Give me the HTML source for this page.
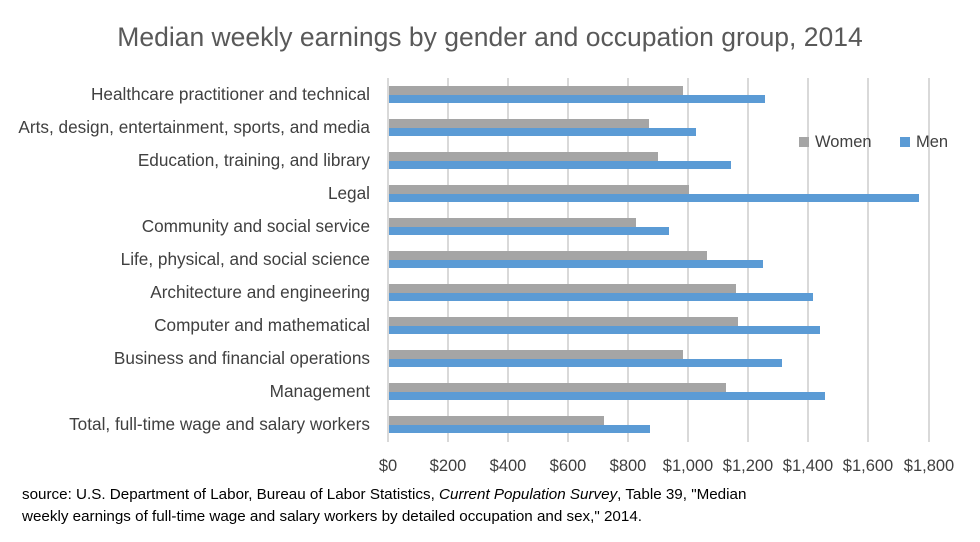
<!DOCTYPE html><html><head><style>body{margin:0;background:#fff;width:980px;height:537px;overflow:hidden}</style></head><body>
<svg width="980" height="537" xmlns="http://www.w3.org/2000/svg" font-family="Liberation Sans, sans-serif">
<text x="490" y="46" text-anchor="middle" font-size="26.5" fill="#595959">Median weekly earnings by gender and occupation group, 2014</text>
<g stroke="#d9d9d9" stroke-width="2">
<line x1="448" y1="78" x2="448" y2="442"/><line x1="508" y1="78" x2="508" y2="442"/><line x1="568" y1="78" x2="568" y2="442"/><line x1="628" y1="78" x2="628" y2="442"/><line x1="688" y1="78" x2="688" y2="442"/><line x1="748" y1="78" x2="748" y2="442"/><line x1="808" y1="78" x2="808" y2="442"/><line x1="868" y1="78" x2="868" y2="442"/><line x1="929" y1="78" x2="929" y2="442"/>
<line x1="388" y1="78" x2="388" y2="442"/></g>
<g font-size="17.2" fill="#404040" text-anchor="end">
<text x="370" y="100">Healthcare practitioner and technical</text>
<text x="370" y="133">Arts, design, entertainment, sports, and media</text>
<text x="370" y="166">Education, training, and library</text>
<text x="370" y="199">Legal</text>
<text x="370" y="232">Community and social service</text>
<text x="370" y="265">Life, physical, and social science</text>
<text x="370" y="298">Architecture and engineering</text>
<text x="370" y="331">Computer and mathematical</text>
<text x="370" y="364">Business and financial operations</text>
<text x="370" y="397">Management</text>
<text x="370" y="430">Total, full-time wage and salary workers</text>
</g>
<g font-size="16.5" fill="#404040" text-anchor="middle">
<text x="388" y="471">$0</text><text x="448" y="471">$200</text><text x="508" y="471">$400</text><text x="568" y="471">$600</text><text x="628" y="471">$800</text><text x="688" y="471">$1,000</text><text x="748" y="471">$1,200</text><text x="808" y="471">$1,400</text><text x="868" y="471">$1,600</text><text x="929" y="471">$1,800</text>
</g>
<rect x="799" y="137" width="10" height="10" fill="#a5a5a5"/><text x="815" y="147" font-size="16.5" fill="#404040">Women</text>
<rect x="900" y="137" width="10" height="10" fill="#5b9bd5"/><text x="916" y="147" font-size="16.5" fill="#404040">Men</text>
<text x="22" y="499" font-size="15.2" fill="#000">source: U.S. Department of Labor, Bureau of Labor Statistics, <tspan font-style="italic">Current Population Survey</tspan>, Table 39, "Median</text>
<text x="22" y="521" font-size="15.2" fill="#000">weekly earnings of full-time wage and salary workers by detailed occupation and sex," 2014.</text>
<g>
<rect x="389" y="86" width="294" height="9" fill="#a5a5a5"/><rect x="389" y="95" width="376" height="8" fill="#5b9bd5"/>
<rect x="389" y="119" width="260" height="9" fill="#a5a5a5"/><rect x="389" y="128" width="307" height="8" fill="#5b9bd5"/>
<rect x="389" y="152" width="269" height="9" fill="#a5a5a5"/><rect x="389" y="161" width="342" height="8" fill="#5b9bd5"/>
<rect x="389" y="185" width="300" height="9" fill="#a5a5a5"/><rect x="389" y="194" width="530" height="8" fill="#5b9bd5"/>
<rect x="389" y="218" width="247" height="9" fill="#a5a5a5"/><rect x="389" y="227" width="280" height="8" fill="#5b9bd5"/>
<rect x="389" y="251" width="318" height="9" fill="#a5a5a5"/><rect x="389" y="260" width="374" height="8" fill="#5b9bd5"/>
<rect x="389" y="284" width="347" height="9" fill="#a5a5a5"/><rect x="389" y="293" width="424" height="8" fill="#5b9bd5"/>
<rect x="389" y="317" width="349" height="9" fill="#a5a5a5"/><rect x="389" y="326" width="431" height="8" fill="#5b9bd5"/>
<rect x="389" y="350" width="294" height="9" fill="#a5a5a5"/><rect x="389" y="359" width="393" height="8" fill="#5b9bd5"/>
<rect x="389" y="383" width="337" height="9" fill="#a5a5a5"/><rect x="389" y="392" width="436" height="8" fill="#5b9bd5"/>
<rect x="389" y="416" width="215" height="9" fill="#a5a5a5"/><rect x="389" y="425" width="261" height="8" fill="#5b9bd5"/>
</g>
</svg></body></html>
